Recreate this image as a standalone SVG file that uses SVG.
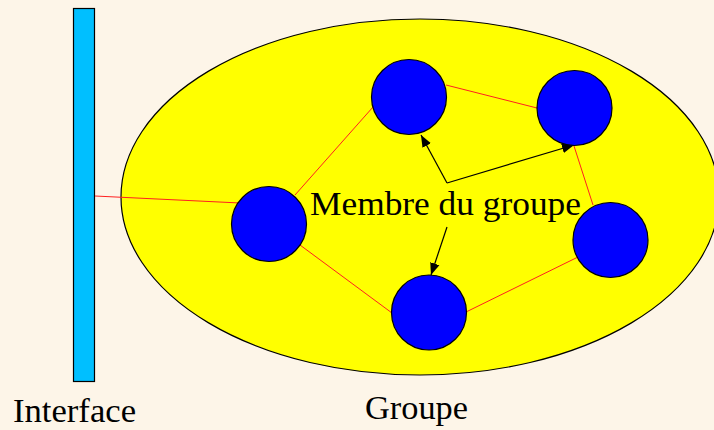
<svg xmlns="http://www.w3.org/2000/svg" width="714" height="430" viewBox="0 0 714 430">
  <style>
    .member { fill: #0000ff; stroke: #000; stroke-width: 1.2; }
    .link { stroke: #ff2020; stroke-width: 1; fill: none; }
    .ptr { stroke: #000; stroke-width: 1.2; fill: none; marker-end: url(#head); }
    .lbl { font-family: "Liberation Serif", "Times New Roman", serif; font-size: 34px; fill: #000; }
  </style>
  <defs>
    <marker id="head" viewBox="0 0 10 10" refX="10" refY="5" markerWidth="12" markerHeight="12" markerUnits="userSpaceOnUse" orient="auto">
      <path d="M0,1 L10,5 L0,9 Z" fill="#000"/>
    </marker>
  </defs>

  <rect width="714" height="430" fill="#fdf5e8"/>

  <!-- group area -->
  <g id="groupe">
    <ellipse cx="420" cy="197" rx="299" ry="178" fill="#ffff00" stroke="#000" stroke-width="1.2"/>
    <text class="lbl" x="365" y="419" textLength="103" lengthAdjust="spacingAndGlyphs">Groupe</text>
  </g>

  <!-- interface bar -->
  <g id="interface">
    <rect x="73.5" y="8.5" width="21" height="373" fill="#00bfff" stroke="#000" stroke-width="1.2"/>
    <text class="lbl" x="13" y="422" textLength="123" lengthAdjust="spacingAndGlyphs">Interface</text>
  </g>

  <!-- connectors -->
  <g id="connectors">
    <line class="link" x1="95" y1="196" x2="240" y2="203"/>
    <line class="link" x1="295" y1="195" x2="373" y2="107"/>
    <line class="link" x1="446" y1="85" x2="537" y2="108"/>
    <line class="link" x1="574" y1="146" x2="593" y2="205"/>
    <line class="link" x1="578" y1="257" x2="464" y2="313"/>
    <line class="link" x1="392" y1="313" x2="300" y2="245"/>
    <line class="ptr" x1="447" y1="183" x2="421" y2="135"/>
    <line class="ptr" x1="447" y1="183" x2="574" y2="145"/>
    <line class="ptr" x1="447" y1="227" x2="431" y2="275"/>
  </g>

  <!-- group members -->
  <g id="membre-gauche"><circle class="member" cx="269" cy="224" r="37.5"/></g>
  <g id="membre-haut-gauche"><circle class="member" cx="409" cy="97" r="37.5"/></g>
  <g id="membre-haut-droite"><circle class="member" cx="574.5" cy="108" r="37.5"/></g>
  <g id="membre-droite"><circle class="member" cx="610.5" cy="240" r="37.5"/></g>
  <g id="membre-bas"><circle class="member" cx="429" cy="312.5" r="37.5"/></g>

  <g id="legende-membre">
    <text class="lbl" x="310" y="215" textLength="271" lengthAdjust="spacingAndGlyphs">Membre du groupe</text>
  </g>
</svg>
